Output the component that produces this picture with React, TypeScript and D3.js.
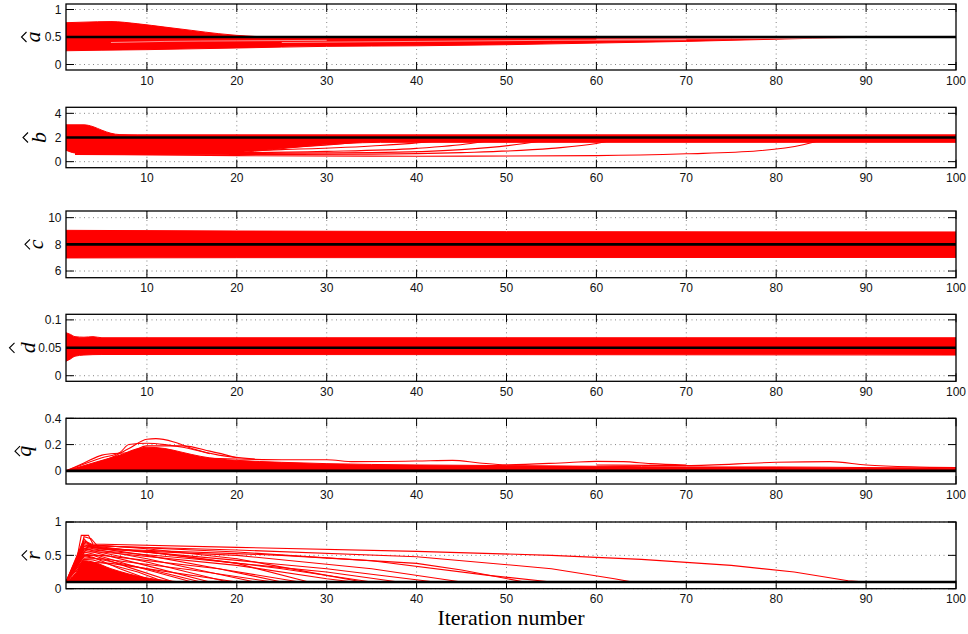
import React from 'react';
import * as d3 from 'd3';

type P = [number, number];

// ---------- data ----------
const iterTicks = [10, 20, 30, 40, 50, 60, 70, 80, 90, 100];
const iterDomain: P = [1, 100];

const aTicks = [0, 0.5, 1];
const bTicks = [0, 2, 4];
const cTicks = [6, 8, 10];
const dTicks = [0, 0.05, 0.1];
const qTicks = [0, 0.2, 0.4];
const rTicks = [0, 0.5, 1];

const aDomain: P = [-0.1, 1.1];
const bDomain: P = [-0.5, 4.5];
const cDomain: P = [5.5, 10.5];
const dDomain: P = [-0.01, 0.11];
const qDomain: P = [-0.1, 0.4];
const rDomain: P = [0, 1];

const trueA = 0.5;
const trueB = 2;
const trueC = 8;
const trueD = 0.05;
const trueQ = 0;
const trueR = 0.1;

const aUpper: P[] = [[1, 0.76], [3, 0.77], [6, 0.78], [9, 0.74], [12, 0.68], [15, 0.62], [18, 0.56], [20, 0.53], [22, 0.51], [25, 0.5], [100, 0.5]];
const aLower: P[] = [[1, 0.25], [5, 0.26], [10, 0.27], [20, 0.3], [30, 0.33], [40, 0.34], [50, 0.36], [60, 0.39], [70, 0.42], [80, 0.46], [88, 0.49], [95, 0.5], [100, 0.5]];
const aGaps: P[][] = [
  [[6, 0.4], [12, 0.42], [20, 0.43], [30, 0.44]],
  [[25, 0.4], [40, 0.42], [55, 0.44], [70, 0.45]],
  [[60, 0.46], [75, 0.47], [88, 0.48]],
];

const bUpper: P[] = [[1, 3.05], [3, 3.05], [4, 2.9], [5, 2.6], [6, 2.35], [7, 2.24], [9, 2.22], [100, 2.22]];
const bLower: P[] = [[1, 0.95], [2, 0.72], [5, 0.62], [10, 0.6], [15, 0.62], [20, 0.75], [24, 1.0], [28, 1.3], [32, 1.5], [36, 1.6], [100, 1.6]];
const bLines: P[][] = [
  [[2, 0.6], [20, 0.5], [40, 0.45], [60, 0.5], [70, 0.65], [78, 0.9], [83, 1.4], [86, 2.0]],
  [[2, 0.65], [20, 0.6], [35, 0.62], [45, 0.75], [55, 1.1], [60, 1.5], [63, 2.0]],
  [[2, 0.7], [20, 0.68], [35, 0.75], [45, 1.0], [52, 1.5], [56, 2.0]],
  [[2, 0.75], [20, 0.75], [30, 0.85], [40, 1.1], [46, 1.5], [50, 2.0]],
  [[2, 0.8], [15, 0.85], [25, 1.0], [35, 1.3], [42, 1.7], [45, 2.0]],
  [[2, 0.9], [15, 0.95], [25, 1.15], [32, 1.5], [37, 2.0]],
  [[2, 1.0], [12, 1.0], [20, 1.2], [27, 1.6], [30, 2.0]],
];

const cUpper: P[] = [[1, 9.05], [20, 9.0], [50, 8.95], [100, 8.93]];
const cLower: P[] = [[1, 6.98], [20, 7.0], [100, 7.02]];

const dUpper: P[] = [[1, 0.077], [1.5, 0.074], [2, 0.07], [3, 0.069], [4, 0.07], [5, 0.068], [100, 0.068]];
const dLower: P[] = [[1, 0.026], [1.5, 0.03], [2, 0.035], [3, 0.037], [5, 0.038], [100, 0.037]];

const qUpper: P[] = [[1, 0], [3, 0.04], [5, 0.08], [7, 0.12], [9, 0.17], [10, 0.18], [12, 0.17], [14, 0.14], [16, 0.11], [18, 0.09], [20, 0.08], [25, 0.065], [30, 0.055], [40, 0.045], [50, 0.04], [60, 0.035], [70, 0.03], [80, 0.03], [90, 0.025], [100, 0.02]];
const qLower: P[] = [[1, 0], [100, 0]];
const qLines: P[][] = [
  [[1, 0], [4, 0.05], [6, 0.1], [8, 0.17], [10, 0.24], [11, 0.245], [13, 0.22], [15, 0.17], [18, 0.12], [22, 0.09]],
  [[1, 0], [5, 0.1], [7, 0.14], [8, 0.2], [10, 0.21], [12, 0.2], [14, 0.18], [17, 0.13]],
  [[1, 0], [3, 0.06], [5, 0.12], [6, 0.13], [8, 0.14], [10, 0.19], [14, 0.19], [17, 0.15], [20, 0.1]],
  [[15, 0.1], [20, 0.09], [25, 0.085], [30, 0.085], [33, 0.07], [40, 0.075], [44, 0.08], [47, 0.06], [50, 0.046], [57, 0.064], [60, 0.072], [63, 0.07], [66, 0.055], [70, 0.045]],
  [[60, 0.045], [70, 0.04], [80, 0.065], [86, 0.07], [90, 0.045], [95, 0.03], [100, 0.025]],
];

const rUpper: P[] = [[1, 0.1], [2, 0.22], [3, 0.42], [4, 0.4], [6, 0.3], [8, 0.22], [11, 0.14], [14, 0.1]];
const rLower: P[] = [[1, 0.1], [14, 0.1]];
const rLines: P[][] = [
  [[1, 0.1], [2, 0.3], [2.7, 0.8], [3.5, 0.8], [4, 0.67], [20, 0.62], [40, 0.56], [55, 0.5], [65, 0.44], [75, 0.35], [82, 0.25], [88, 0.12], [90, 0.1]],
  [[1, 0.1], [2.5, 0.5], [3, 0.78], [3.8, 0.75], [4.5, 0.64], [20, 0.58], [40, 0.48], [55, 0.3], [62, 0.15], [64, 0.1]],
  [[1, 0.1], [3, 0.7], [4, 0.65], [20, 0.55], [35, 0.42], [48, 0.2], [55, 0.1]],
  [[1, 0.1], [3.5, 0.65], [5, 0.6], [25, 0.5], [40, 0.38], [45, 0.28], [52, 0.1]],
  [[1, 0.1], [3, 0.75], [4, 0.6], [20, 0.5], [35, 0.3], [45, 0.1]],
  [[1, 0.1], [3, 0.6], [4, 0.58], [15, 0.45], [30, 0.25], [38, 0.1]],
  [[1, 0.1], [3, 0.55], [5, 0.55], [20, 0.35], [30, 0.15], [33, 0.1]],
  [[1, 0.1], [3, 0.5], [5, 0.5], [18, 0.3], [27, 0.1]],
  [[1, 0.1], [3, 0.45], [5, 0.45], [15, 0.28], [24, 0.1]],
  [[1, 0.1], [3, 0.4], [6, 0.38], [20, 0.1]],
  [[1, 0.1], [3, 0.72], [4, 0.66], [10, 0.6], [20, 0.45], [30, 0.2], [34, 0.1]],
  [[1, 0.1], [3, 0.68], [4, 0.64], [10, 0.55], [20, 0.38], [28, 0.1]],
  [[1, 0.1], [3, 0.66], [4, 0.62], [10, 0.5], [18, 0.3], [25, 0.1]],
  [[1, 0.1], [3, 0.63], [4, 0.6], [10, 0.45], [22, 0.1]],
  [[1, 0.1], [3, 0.6], [4, 0.57], [10, 0.4], [19, 0.1]],
  [[1, 0.1], [3, 0.58], [4, 0.55], [9, 0.38], [17, 0.1]],
  [[1, 0.1], [3, 0.55], [4, 0.52], [8, 0.36], [15, 0.1]],
  [[1, 0.1], [3, 0.52], [4, 0.5], [8, 0.32], [13, 0.1]],
  [[1, 0.1], [3, 0.5], [4, 0.47], [7, 0.3], [11, 0.1]],
  [[1, 0.1], [3, 0.6], [4, 0.62], [12, 0.52], [25, 0.3], [35, 0.1]],
  [[1, 0.1], [3, 0.64], [4, 0.63], [14, 0.5], [30, 0.3], [42, 0.1]],
  [[1, 0.1], [3, 0.48], [4, 0.46], [10, 0.3], [16, 0.1]],
  [[1, 0.1], [3, 0.44], [4, 0.43], [9, 0.25], [12, 0.1]],
];

// ---------- layout ----------
const W = 968;
const H = 634;
const left = 66;
const right = 956;

interface Panel {
  letter: string;
  top: number;
  bottom: number;
  domain: P;
  ticks: number[];
  truth: number;
  upper: P[];
  lower: P[];
  lines: P[][];
  gaps: P[][];
  lineCurve: 'smooth' | 'linear';
  baseX: number;
  hatX: number;
}

const panels: Panel[] = [
  { letter: 'a', top: 4, bottom: 70, domain: aDomain, ticks: aTicks, truth: trueA, upper: aUpper, lower: aLower, lines: [], gaps: aGaps, lineCurve: 'smooth', baseX: 40, hatX: 24 },
  { letter: 'b', top: 107.3, bottom: 167.7, domain: bDomain, ticks: bTicks, truth: trueB, upper: bUpper, lower: bLower, lines: bLines, gaps: [], lineCurve: 'smooth', baseX: 46, hatX: 25.5 },
  { letter: 'c', top: 211, bottom: 277.7, domain: cDomain, ticks: cTicks, truth: trueC, upper: cUpper, lower: cLower, lines: [], gaps: [], lineCurve: 'smooth', baseX: 43, hatX: 27.5 },
  { letter: 'd', top: 314.3, bottom: 381.3, domain: dDomain, ticks: dTicks, truth: trueD, upper: dUpper, lower: dLower, lines: [], gaps: [], lineCurve: 'smooth', baseX: 35, hatX: 12 },
  { letter: 'q', top: 418.3, bottom: 484, domain: qDomain, ticks: qTicks, truth: trueQ, upper: qUpper, lower: qLower, lines: qLines, gaps: [], lineCurve: 'smooth', baseX: 31, hatX: 17.5 },
  { letter: 'r', top: 522, bottom: 588.7, domain: rDomain, ticks: rTicks, truth: trueR, upper: rUpper, lower: rLower, lines: rLines, gaps: [], lineCurve: 'linear', baseX: 40, hatX: 24.5 },
];

const x = d3.scaleLinear().domain(iterDomain).range([left, right]);
const fmt = (v: number) => String(v);
const sans = '"Liberation Sans", Arial, Helvetica, sans-serif';
const serif = '"Liberation Serif", "Times New Roman", serif';

function PanelView({ p, i }: { p: Panel; i: number }) {
  const y = d3.scaleLinear().domain(p.domain).range([p.bottom, p.top]);
  const smooth = d3.line<P>().x((d) => x(d[0])).y((d) => y(d[1])).curve(d3.curveMonotoneX);
  const linear = d3.line<P>().x((d) => x(d[0])).y((d) => y(d[1]));
  const ln = p.lineCurve === 'smooth' ? smooth : linear;
  const up = smooth(p.upper) || '';
  const lo = smooth([...p.lower].reverse()) || '';
  const areaPath = up + lo.replace(/^M/, 'L') + 'Z';
  const clipId = `clip${i}`;
  const tick = 8;
  const cy = (p.top + p.bottom) / 2;
  return (
    <g>
      <defs>
        <clipPath id={clipId}>
          <rect x={left} y={p.top} width={right - left} height={p.bottom - p.top} />
        </clipPath>
      </defs>
      <g stroke="#666" strokeWidth={0.8} strokeDasharray="1,3.5">
        {iterTicks.filter((t) => t < 100).map((t) => (
          <line key={'gx' + t} x1={x(t)} x2={x(t)} y1={p.top} y2={p.bottom} />
        ))}
        {p.ticks.map((t) => (
          <line key={'gy' + t} x1={left} x2={right} y1={y(t)} y2={y(t)} />
        ))}
      </g>
      <g clipPath={`url(#${clipId})`}>
        <path d={areaPath} fill="#ff0000" stroke="#ff0000" strokeWidth={1} />
        {p.gaps.map((g, k) => (
          <path key={'gap' + k} d={smooth(g) || ''} fill="none" stroke="#ffffff" strokeWidth={0.8} opacity={0.7} />
        ))}
        {p.lines.map((l, k) => (
          <path key={'l' + k} d={ln(l) || ''} fill="none" stroke="#ff0000" strokeWidth={1.1} />
        ))}
        <line x1={left} x2={right} y1={y(p.truth)} y2={y(p.truth)} stroke="#000" strokeWidth={2.6} />
      </g>
      <g stroke="#000" strokeWidth={1}>
        {iterTicks.map((t) => (
          <g key={'tx' + t}>
            <line x1={x(t)} x2={x(t)} y1={p.bottom} y2={p.bottom - tick} />
            <line x1={x(t)} x2={x(t)} y1={p.top} y2={p.top + tick} />
          </g>
        ))}
        {p.ticks.map((t) => (
          <g key={'ty' + t}>
            <line x1={left} x2={left + tick} y1={y(t)} y2={y(t)} />
            <line x1={right} x2={right - tick} y1={y(t)} y2={y(t)} />
          </g>
        ))}
      </g>
      <rect x={left} y={p.top} width={right - left} height={p.bottom - p.top} fill="none" stroke="#000" strokeWidth={1.3} />
      <g fontFamily={sans} fontSize={12} fill="#111">
        {iterTicks.map((t) => (
          <text key={'lx' + t} x={x(t)} y={p.bottom + 14.5} textAnchor="middle">{fmt(t)}</text>
        ))}
        {p.ticks.map((t) => (
          <text key={'ly' + t} x={61.5} y={y(t) + 4.3} textAnchor="end">{fmt(t)}</text>
        ))}
      </g>
      <text
        transform={`translate(${p.baseX},${cy}) rotate(-90)`}
        x={0}
        y={0}
        textAnchor="middle"
        fontFamily={serif}
        fontStyle="italic"
        fontSize={22}
        fill="#000"
      >
        {p.letter}
      </text>
      <path
        d={`M${p.hatX + 2.5},${cy - 5} L${p.hatX - 2.5},${cy} L${p.hatX + 2.5},${cy + 5}`}
        fill="none"
        stroke="#000"
        strokeWidth={1.1}
      />
    </g>
  );
}

export default function App() {
  return (
    <svg width={W} height={H} viewBox={`0 0 ${W} ${H}`} style={{ display: 'block', position: 'absolute', left: 0, top: 0, background: '#fff' }}>
      <rect x={0} y={0} width={W} height={H} fill="#fff" />
      {panels.map((p, i) => (
        <PanelView key={p.letter} p={p} i={i} />
      ))}
      <text x={511} y={625} textAnchor="middle" fontFamily={serif} fontSize={22} fill="#000">
        Iteration number
      </text>
    </svg>
  );
}
